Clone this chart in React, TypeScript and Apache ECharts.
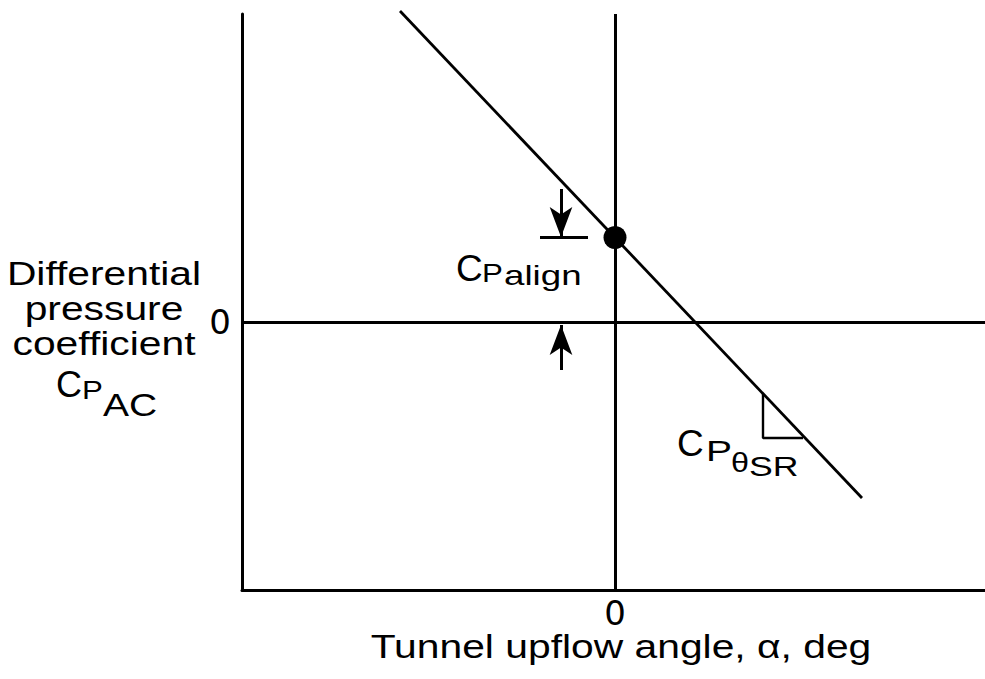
import React, { useEffect, useRef } from "react";
import * as echarts from "echarts";

// Axis extents (data units) and tick values
const xRange = [-3.73, 3.7];
const yRange = [-2.68, 3.08];
const xTickValues = [0];
const yTickValues = [0];

// Differential pressure coefficient vs tunnel upflow angle
const responseLine = [
  [-2.15, 3.11],
  [2.47, -1.76],
];
// Alignment point (alpha = 0)
const alignPoint = [[0, 0.845]];
// Slope triangle (C_P theta SR)
const slopeTriangle = [
  [1.48, -0.72],
  [1.48, -1.16],
  [1.88, -1.16],
];
// Offset dimension (C_P align)
const downArrow = [
  [-0.54, 1.33],
  [-0.54, 0.85],
];
const offsetBar = [
  [-0.75, 0.85],
  [-0.27, 0.85],
];
const upArrow = [
  [-0.54, -0.48],
  [-0.54, -0.03],
];

const FONT = "Liberation Sans";
const TICK_FONT = "DejaVu Sans";
const INK = "#000";

function txt(
  text: string,
  x: number,
  y: number,
  size: number,
  scaleX = 1,
  align = "left",
  lineHeight?: number
) {
  return {
    type: "text",
    x,
    y,
    scaleX,
    silent: true,
    style: {
      text,
      fontSize: size,
      fontFamily: FONT,
      fill: INK,
      align,
      verticalAlign: "middle",
      lineHeight: lineHeight ?? size,
    },
  };
}

export default function App() {
  const ref = useRef<HTMLDivElement>(null);
  useEffect(() => {
    if (!ref.current) return;
    const chart = echarts.init(ref.current, null, { renderer: "svg" });
    const lineSeg = (pts: number[][], endSymbol: string) => [
      { coord: pts[0], symbol: "none" },
      { coord: pts[1], symbol: endSymbol, symbolSize: [17, 30] },
    ];
    chart.setOption({
      animation: false,
      backgroundColor: "#fff",
      grid: {
        left: 242,
        top: 14,
        right: 0,
        bottom: 89,
        containLabel: false,
        outerBoundsMode: "none",
      },
      xAxis: {
        type: "value",
        min: xRange[0],
        max: xRange[1],
        axisLine: { show: true, onZero: false, lineStyle: { color: INK, width: 3 } },
        axisTick: { show: false },
        splitLine: { show: false },
        axisLabel: {
          customValues: xTickValues,
          formatter: (v: number) => String(Math.round(v)),
          fontFamily: TICK_FONT,
          fontSize: 34,
          color: INK,
          margin: 6,
        },
      },
      yAxis: {
        type: "value",
        min: yRange[0],
        max: yRange[1],
        axisLine: { show: true, onZero: false, lineStyle: { color: INK, width: 3 } },
        axisTick: { show: false },
        splitLine: { show: false },
        axisLabel: {
          customValues: yTickValues,
          formatter: (v: number) => String(Math.round(v)),
          fontFamily: TICK_FONT,
          fontSize: 34,
          color: INK,
          margin: 11,
        },
      },
      series: [
        {
          type: "line",
          data: responseLine,
          symbol: "none",
          clip: false,
          lineStyle: { color: INK, width: 2.8 },
          markLine: {
            silent: true,
            symbol: ["none", "none"],
            label: { show: false },
            lineStyle: { color: INK, width: 3, type: "solid" },
            data: [
              { xAxis: 0 },
              { yAxis: 0 },
              lineSeg(downArrow, "arrow"),
              lineSeg(upArrow, "arrow"),
              lineSeg(offsetBar, "none"),
            ],
          },
        },
        {
          type: "line",
          data: slopeTriangle,
          symbol: "none",
          lineStyle: { color: INK, width: 2.4 },
        },
        {
          type: "scatter",
          data: alignPoint,
          symbol: "circle",
          symbolSize: 23,
          itemStyle: { color: INK, opacity: 1 },
        },
      ],
      graphic: [
        // y-axis title
        txt("Differential\npressure\ncoefficient", 104, 308, 34, 1.2, "center", 35),
        txt("C", 56, 384.5, 36),
        txt("P", 82, 390.5, 25, 1.25),
        txt("AC", 103, 405, 32, 1.22),
        // C_P align annotation
        txt("C", 456, 268.5, 37),
        txt("P", 482, 273.5, 25, 1.25),
        txt("align", 504, 276, 27, 1.36),
        // C_P theta SR annotation
        txt("C", 677, 443.5, 37),
        txt("P", 706, 451, 30, 1.3),
        txt("\u03b8", 731, 462, 27, 1.2),
        txt("SR", 749, 467, 27, 1.32),
        // x-axis title
        txt("Tunnel upflow angle, \u03b1, deg", 621, 646, 34, 1.2, "center"),
      ],
    });
    return () => chart.dispose();
  }, []);
  return (
    <div
      ref={ref}
      style={{ position: "absolute", left: 0, top: 0, width: 985, height: 679 }}
    />
  );
}
